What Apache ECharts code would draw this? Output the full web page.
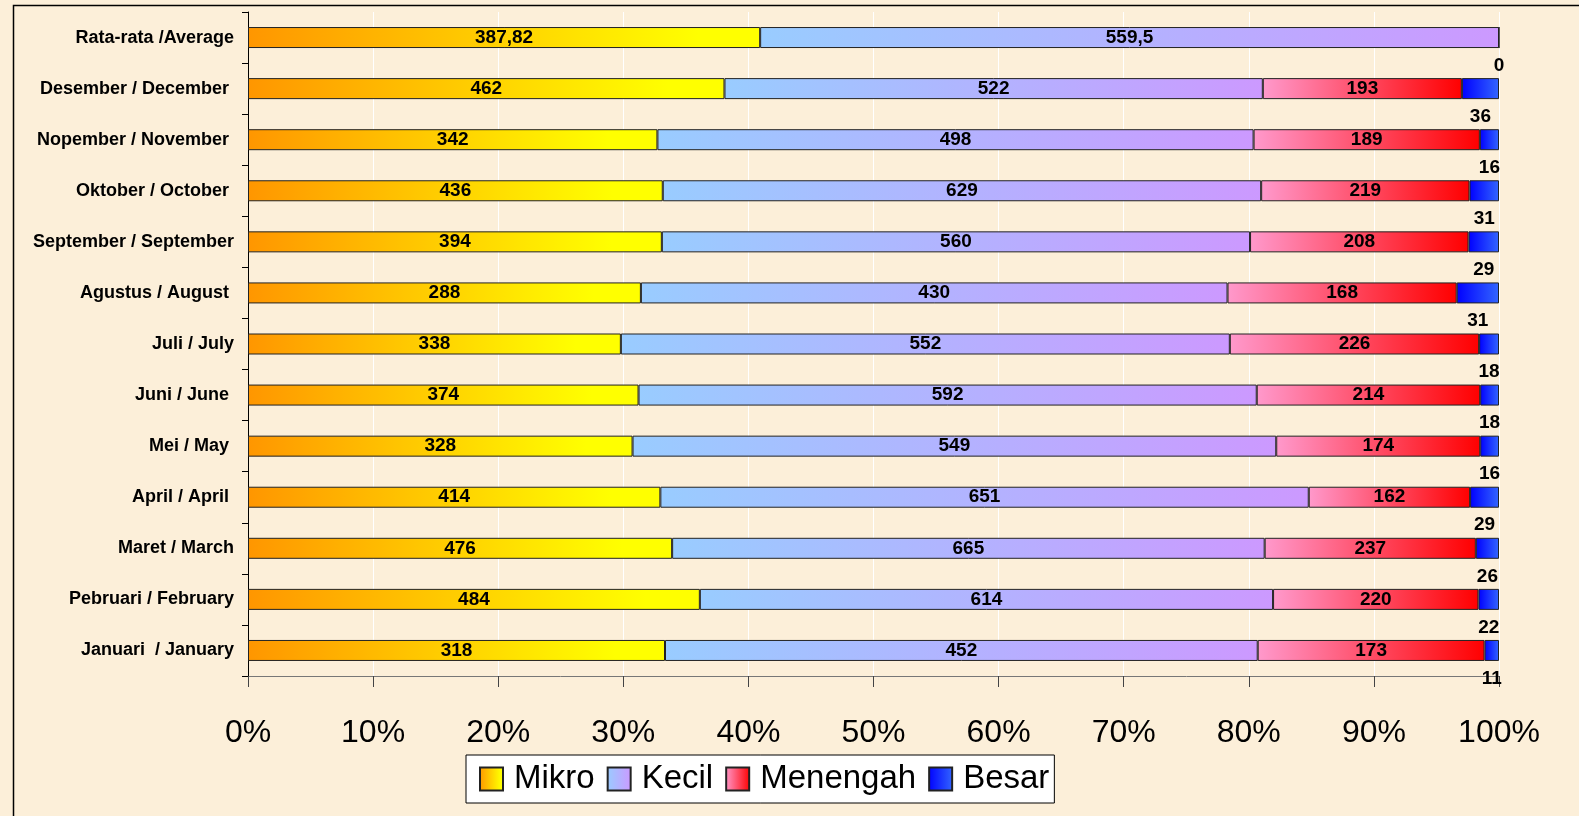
<!DOCTYPE html>
<html>
<head>
<meta charset="utf-8">
<script src="https://cdn.jsdelivr.net/npm/echarts@6/dist/echarts.min.js"></script>
<style>
html,body{margin:0;padding:0;background:#FCEFD9;overflow:hidden;}
#c{width:1579px;height:816px;}
</style>
</head>
<body>
<div id="c"></div>
<script>
var categories = ['Januari  / January','Pebruari / February','Maret / March','April / April ','Mei / May ','Juni / June ','Juli / July','Agustus / August ','September / September','Oktober / October ','Nopember / November ','Desember / December ','Rata-rata /Average'];
var mikro    = [318, 484, 476, 414, 328, 374, 338, 288, 394, 436, 342, 462, 387.82];
var kecil    = [452, 614, 665, 651, 549, 592, 552, 430, 560, 629, 498, 522, 559.5];
var menengah = [173, 220, 237, 162, 174, 214, 226, 168, 208, 219, 189, 193, null];
var besar    = [11, 22, 26, 29, 16, 18, 18, 31, 29, 31, 16, 36, 0];
var seriesNames = ['Mikro','Kecil','Menengah','Besar'];
var xTicks = [0,10,20,30,40,50,60,70,80,90,100];

var raw = [mikro, kecil, menengah, besar];
var totals = categories.map(function(_, i){
  return raw.reduce(function(s, arr){ return s + (arr[i] == null ? 0 : arr[i]); }, 0);
});
function pct(arr){ return arr.map(function(v, i){ return v == null ? null : v / totals[i] * 100; }); }
function fmt(v){ return v == null ? '' : String(v).replace('.', ','); }

function grad(c1, c2, mid){
  var stops = [{offset:0,color:c1}];
  if (mid) stops.push({offset:mid,color:c2});
  stops.push({offset:1,color:c2});
  return new echarts.graphic.LinearGradient(0,0,1,0,stops);
}
var colors = [
  grad('#FF9600','#FFFF00',0.88),
  grad('#99CCFF','#CC99FF'),
  grad('#FF99CC','#FF0000'),
  grad('#0000FF','#3366FF')
];

var labelFont = {fontFamily:'Liberation Sans, Arial, sans-serif', fontWeight:'bold', fontSize:19, color:'#000'};

var series = raw.map(function(arr, si){
  var isBesar = si === 3;
  return {
    name: seriesNames[si],
    type: 'bar',
    stack: 'total',
    barWidth: 21,
    data: pct(arr),
    itemStyle: {color: colors[si], borderColor: '#222', borderWidth: 1},
    label: Object.assign({
      show: true,
      position: isBesar ? 'bottom' : 'inside',
      distance: 8,
      formatter: function(p){ return fmt(arr[p.dataIndex]); }
    }, labelFont),
    emphasis: {disabled: true}
  };
});

var chart = echarts.init(document.getElementById('c'));
chart.setOption({
  backgroundColor: '#FCEFD9',
  animation: false,
  grid: {left: 248, right: 80, top: 12, bottom: 140, containLabel: false},
  xAxis: {
    type: 'value', min: 0, max: 100, interval: 10,
    axisLine: {show: true, lineStyle: {color: '#777', width: 1}},
    axisTick: {show: true, length: 11, lineStyle: {color: '#444'}},
    splitLine: {show: true, lineStyle: {color: '#FFFFFF', width: 1}},
    axisLabel: {
      margin: 41,
      fontFamily: 'Liberation Sans, Arial, sans-serif', fontSize: 32, color: '#000',
      formatter: function(v){ return xTicks.indexOf(v) >= 0 ? v + '%' : ''; }
    }
  },
  yAxis: {
    type: 'category', data: categories,
    axisLine: {show: true, lineStyle: {color: '#000', width: 1}},
    axisTick: {show: true, length: 6, lineStyle: {color: '#000'}},
    axisLabel: {
      margin: 14, fontFamily: 'Liberation Sans, Arial, sans-serif', fontWeight: 'bold', fontSize: 18, color: '#000'
    }
  },
  legend: {
    data: seriesNames,
    left: 466, top: 755,
    orient: 'horizontal',
    itemWidth: 23, itemHeight: 23,
    itemGap: 12,
    padding: [6, 5, 6, 13],
    backgroundColor: '#FFFFFF',
    borderColor: '#000', borderWidth: 1, borderRadius: 0,
    icon: 'rect',
    selectedMode: false,
    textStyle: {fontFamily: 'Liberation Sans, Arial, sans-serif', fontSize: 33, color: '#000', padding: [0,0,0,6], lineHeight: 36}
  },
  graphic: [{
    type: 'rect', silent: true, z: -1,
    shape: {x: 13.5, y: 5.5, width: 1700, height: 1000},
    style: {fill: 'none', stroke: '#000', lineWidth: 1.5}
  }],
  series: series
});
</script>
</body>
</html>
